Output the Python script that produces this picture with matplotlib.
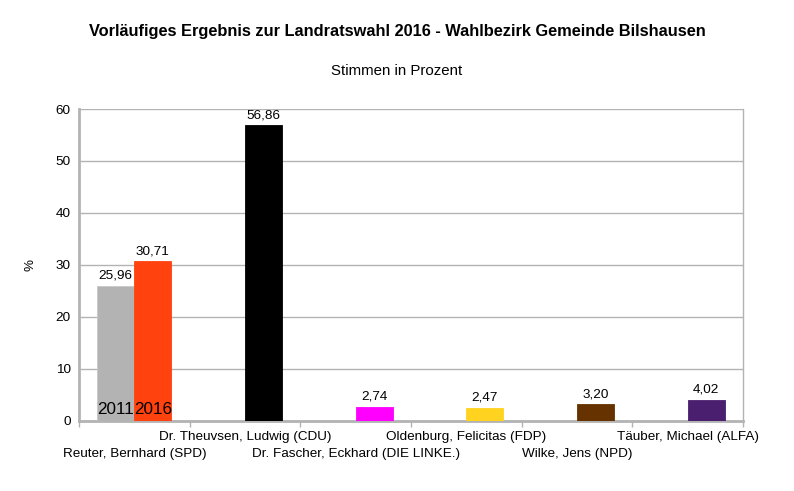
import numpy as np
import matplotlib.pyplot as plt
from matplotlib.ticker import FixedLocator

plt.rcParams["font.family"] = ["Liberation Sans", "DejaVu Sans"]

candidates = ["Reuter, Bernhard (SPD)", "Dr. Theuvsen, Ludwig (CDU)",
              "Dr. Fascher, Eckhard (DIE LINKE.)", "Oldenburg, Felicitas (FDP)",
              "Wilke, Jens (NPD)", "Täuber, Michael (ALFA)"]
votes_2016 = [30.71, 56.86, 2.74, 2.47, 3.20, 4.02]
votes_2011 = [25.96]  # only the SPD candidate ran in 2011
colors_2016 = ["#ff420e", "#000000", "#ff00ff", "#ffd320", "#663300", "#4b1f6f"]
color_2011 = "#b3b3b3"

fig = plt.figure(figsize=(7.94, 4.91), dpi=100)
ax = fig.add_axes([0.0995, 0.1426, 0.8363, 0.6354])

x = np.arange(len(candidates))
w = 0.335

b11 = ax.bar(x[:len(votes_2011)] - w / 2, votes_2011, w, color=color_2011,
             edgecolor="#c8c8c8", linewidth=0.6, zorder=3)
b16 = ax.bar(x + w / 2, votes_2016, w, color=colors_2016,
             edgecolor=colors_2016, linewidth=0.6, zorder=3)

for bars in (b11, b16):
    for r in bars:
        ax.annotate(f"{r.get_height():.2f}".replace(".", ","),
                    (r.get_x() + r.get_width() / 2, r.get_height()),
                    xytext=(0, 3), textcoords="offset points",
                    ha="center", va="bottom", fontsize=9.7, zorder=4)

# year labels inside the SPD bars
ax.text(x[0] - w / 2, 0.8, "2011", ha="center", va="bottom", fontsize=12.3, zorder=4)
ax.text(x[0] + w / 2, 0.8, "2016", ha="center", va="bottom", fontsize=12.3, zorder=4)

ax.set_xlim(-0.5, len(candidates) - 0.5)
ax.set_ylim(0, 60)
ax.set_yticks(range(0, 61, 10))
ax.tick_params(axis="y", length=0, labelsize=9.7, pad=6)

# staggered category labels
ax.set_xticks(x)
ax.set_xticklabels([])
ax.tick_params(axis="x", which="major", length=0)
for i, c in enumerate(candidates):
    off = 19.5 if i % 2 == 0 else 7.5
    ax.annotate(c, (x[i], 0), xycoords=("data", "axes fraction"),
                xytext=(0, -off), textcoords="offset points",
                ha="center", va="top", fontsize=9.7)
ax.xaxis.set_minor_locator(FixedLocator(np.arange(-0.5, len(candidates), 1.0)))
ax.tick_params(axis="x", which="minor", length=4, color="#b3b3b3", width=1)

ax.grid(True, axis="y", color="#b3b3b3", linewidth=1, zorder=0)
ax.set_axisbelow(True)
for s in ["left", "bottom"]:
    ax.spines[s].set_color("#b3b3b3")
    ax.spines[s].set_linewidth(2)
ax.spines["right"].set_color("#b3b3b3")
ax.spines["right"].set_linewidth(1)
ax.spines["top"].set_visible(False)

ax.set_ylabel("%", fontsize=9.7, labelpad=14)

fig.text(0.5, 0.935, "Vorläufiges Ergebnis zur Landratswahl 2016 - Wahlbezirk Gemeinde Bilshausen",
         ha="center", va="center", fontsize=11.8, fontweight="bold")
fig.text(0.5, 0.855, "Stimmen in Prozent", ha="center", va="center", fontsize=10.8)

fig.savefig("out.png", dpi=100)
